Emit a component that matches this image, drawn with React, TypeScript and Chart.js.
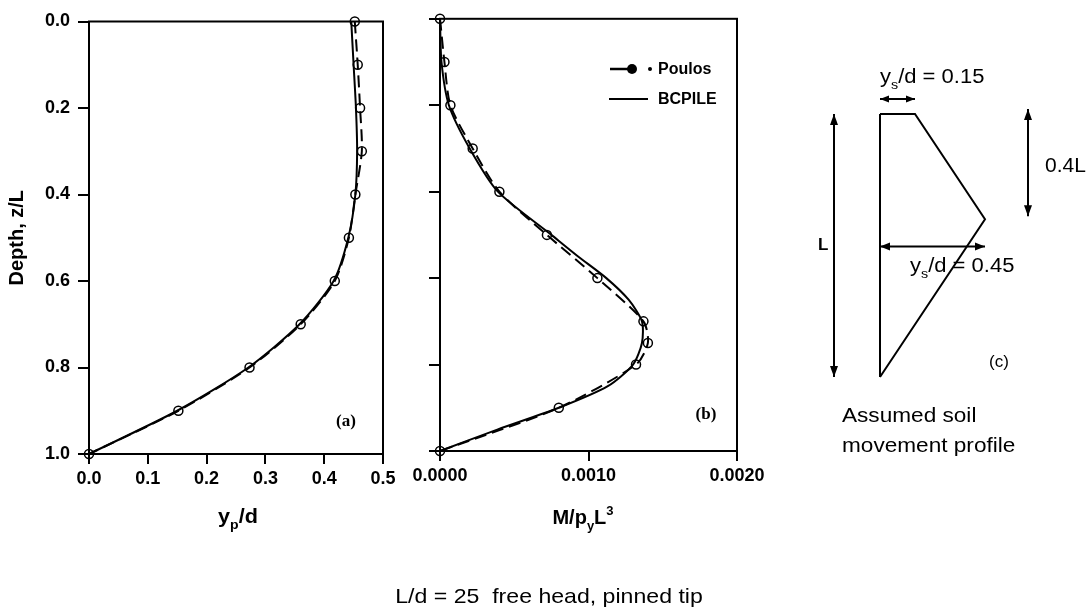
import React, { useEffect, useRef } from "react";
import { Chart, registerables } from "chart.js";

Chart.register(...registerables);

const W = 1089;
const H = 613;
const FONT = "'Liberation Sans', Arial, Helvetica, sans-serif";
const SERIF = "'Liberation Serif', 'Times New Roman', serif";

// ---- Panel (a): pile deflection y_p/d vs depth z/L
const depthA = [0, 0.1, 0.2, 0.3, 0.4, 0.5, 0.6, 0.7, 0.8, 0.9, 1.0];
const poulosA = [0.452, 0.457, 0.461, 0.464, 0.453, 0.442, 0.418, 0.36, 0.273, 0.152, 0];
const bcpileA = [0.446, 0.45, 0.454, 0.456, 0.453, 0.441, 0.416, 0.358, 0.271, 0.15, 0];
const xTicksA = { min: 0, max: 0.5, step: 0.1 };

// ---- Panel (b): bending moment M/p_yL^3 vs depth z/L
const depthPoulosB = [0, 0.1, 0.2, 0.3, 0.4, 0.5, 0.6, 0.7, 0.75, 0.8, 0.9, 1.0];
const poulosB = [0, 0.00003, 0.00007, 0.00022, 0.0004, 0.00072, 0.00106, 0.00137, 0.0014, 0.00132, 0.0008, 0];
const depthBcpileB = [0, 0.1, 0.2, 0.3, 0.4, 0.5, 0.55, 0.6, 0.65, 0.7, 0.75, 0.8, 0.85, 0.9, 0.95, 1.0];
const bcpileB = [0, 0.00001, 0.00006, 0.0002, 0.00039, 0.00075, 0.00093, 0.00112, 0.00127, 0.00136, 0.00136, 0.0013, 0.00113, 0.0008, 0.00039, 0];
const xTicksB = { min: 0, max: 0.002, step: 0.001 };

// ---- Depth axis
const depthAxis = { min: 0, max: 1, step: 0.2 };

// ---- Panel (c): assumed soil movement profile
const soilDepth = [0, 0, 0.4, 1];
const soilMove = [0, 0.15, 0.45, 0];
const pileDepth = [0, 1];
const pileMove = [0, 0];

type Seg = { t: string; sub?: boolean; sup?: boolean };

function drawRich(
  ctx: CanvasRenderingContext2D,
  segs: Seg[],
  x: number,
  y: number,
  size: number,
  bold: boolean,
  align: "left" | "center" | "right",
  sx = 1
) {
  ctx.save();
  const fontOf = (s: Seg) => {
    const sz = s.sub || s.sup ? Math.round(size * 0.65) : size;
    return `${bold ? "bold " : ""}${sz}px ${FONT}`;
  };
  let total = 0;
  const widths = segs.map((s) => {
    ctx.font = fontOf(s);
    const w = ctx.measureText(s.t).width;
    total += w;
    return w;
  });
  let x0 = x;
  if (align === "center") x0 = x - (total * sx) / 2;
  if (align === "right") x0 = x - total * sx;
  ctx.translate(x0, y);
  ctx.scale(sx, 1);
  ctx.fillStyle = "#000";
  ctx.textBaseline = "alphabetic";
  ctx.textAlign = "left";
  let cx = 0;
  segs.forEach((s, i) => {
    ctx.font = fontOf(s);
    const dy = s.sub ? size * 0.3 : s.sup ? -size * 0.45 : 0;
    ctx.fillText(s.t, cx, dy);
    cx += widths[i];
  });
  ctx.restore();
}

function arrowHead(ctx: CanvasRenderingContext2D, x: number, y: number, ang: number, len: number, hw: number) {
  ctx.beginPath();
  ctx.moveTo(x, y);
  ctx.lineTo(x - len * Math.cos(ang) + hw * Math.sin(ang), y - len * Math.sin(ang) - hw * Math.cos(ang));
  ctx.lineTo(x - len * Math.cos(ang) - hw * Math.sin(ang), y - len * Math.sin(ang) + hw * Math.cos(ang));
  ctx.closePath();
  ctx.fill();
}

function doubleArrow(ctx: CanvasRenderingContext2D, x1: number, y1: number, x2: number, y2: number, len = 10, hw = 4) {
  ctx.save();
  ctx.strokeStyle = "#000";
  ctx.fillStyle = "#000";
  ctx.lineWidth = 2;
  ctx.beginPath();
  ctx.moveTo(x1, y1);
  ctx.lineTo(x2, y2);
  ctx.stroke();
  const ang = Math.atan2(y2 - y1, x2 - x1);
  arrowHead(ctx, x2, y2, ang, len, hw);
  arrowHead(ctx, x1, y1, ang + Math.PI, len, hw);
  ctx.restore();
}

const framePlugin = {
  id: "frame",
  afterDraw(chart: any) {
    const { ctx, chartArea: a } = chart;
    ctx.save();
    ctx.strokeStyle = "#000";
    ctx.lineWidth = 2;
    ctx.setLineDash([]);
    ctx.strokeRect(a.left, a.top, a.right - a.left, a.bottom - a.top);
    ctx.restore();
  },
};

const tickFont = { family: FONT, size: 18, weight: "bold" as const };

function depthScale(showLabels: boolean, width: number) {
  return {
    type: "linear",
    reverse: true,
    min: depthAxis.min,
    max: depthAxis.max,
    afterFit(s: any) {
      s.width = width;
    },
    border: { display: true, color: "#000", width: 2 },
    grid: { drawOnChartArea: false, drawTicks: true, tickLength: 11, color: "#000", lineWidth: 2 },
    ticks: {
      stepSize: depthAxis.step,
      padding: 8,
      color: "#000",
      font: tickFont,
      autoSkip: false,
      callback: (v: any) => (showLabels ? Number(v).toFixed(1) : ""),
    },
    title: showLabels
      ? {
          display: true,
          text: "Depth, z/L",
          color: "#000",
          font: { family: FONT, size: 20, weight: "bold" },
          padding: { top: 5, bottom: 0 },
        }
      : { display: false },
  };
}

function valueScale(t: { min: number; max: number; step: number }, digits: number) {
  return {
    type: "linear",
    min: t.min,
    max: t.max,
    afterFit(s: any) {
      s.height = 80;
    },
    border: { display: true, color: "#000", width: 2 },
    grid: { drawOnChartArea: false, drawTicks: true, tickLength: 10, color: "#000", lineWidth: 2 },
    ticks: {
      stepSize: t.step,
      padding: 4,
      color: "#000",
      font: tickFont,
      autoSkip: false,
      maxRotation: 0,
      callback: (v: any) => Number(v).toFixed(digits),
    },
  };
}

function poulosDataset(xs: number[], ds: number[]) {
  return {
    label: "Poulos",
    data: xs.map((x, i) => ({ x, y: ds[i] })),
    showLine: true,
    borderColor: "#000",
    borderWidth: 2,
    borderDash: [12, 6],
    tension: 0.25,
    pointRadius: 4.5,
    pointBorderWidth: 1.5,
    pointBorderColor: "#000",
    pointBackgroundColor: "rgba(0,0,0,0)",
    clip: false,
  };
}

function bcpileDataset(xs: number[], ds: number[]) {
  return {
    label: "BCPILE",
    data: xs.map((x, i) => ({ x, y: ds[i] })),
    showLine: true,
    borderColor: "#000",
    borderWidth: 2,
    tension: 0.25,
    pointRadius: 0,
    clip: false,
  };
}

const baseOptions = {
  responsive: false,
  maintainAspectRatio: false,
  animation: false,
  devicePixelRatio: 1,
  events: [],
};

function configA(): any {
  const labels = {
    id: "labelsA",
    afterDraw(chart: any) {
      const { ctx, chartArea: a } = chart;
      drawRich(ctx, [{ t: "y" }, { t: "p", sub: true }, { t: "/d" }], (a.left + a.right) / 2 + 2, 523, 20, true, "center", 1.08);
      ctx.save();
      ctx.font = `bold 17px ${SERIF}`;
      ctx.fillStyle = "#000";
      ctx.textAlign = "center";
      ctx.textBaseline = "middle";
      ctx.fillText("(a)", a.right - 37, a.bottom - 32);
      ctx.restore();
    },
  };
  return {
    type: "scatter",
    data: { datasets: [poulosDataset(poulosA, depthA), bcpileDataset(bcpileA, depthA)] },
    options: {
      ...baseOptions,
      layout: { padding: { left: 0, top: 21.5, right: W - 383, bottom: H - 454 - 80 } },
      plugins: { legend: { display: false }, tooltip: { enabled: false } },
      scales: { x: valueScale(xTicksA, 1), y: depthScale(true, 89) },
    },
    plugins: [framePlugin, labels],
  };
}

function configB(): any {
  const labels = {
    id: "labelsB",
    afterDraw(chart: any) {
      const { ctx, chartArea: a } = chart;
      drawRich(
        ctx,
        [{ t: "M/p" }, { t: "y", sub: true }, { t: "L" }, { t: "3", sup: true }],
        583,
        524,
        20,
        true,
        "center",
        1.0
      );
      ctx.save();
      ctx.font = `bold 17px ${SERIF}`;
      ctx.fillStyle = "#000";
      ctx.textAlign = "center";
      ctx.textBaseline = "middle";
      ctx.fillText("(b)", a.right - 31, a.bottom - 36);
      // legend
      const L = a.left;
      ctx.strokeStyle = "#000";
      ctx.lineWidth = 2.5;
      ctx.beginPath();
      ctx.moveTo(L + 170, 69);
      ctx.lineTo(L + 188, 69);
      ctx.stroke();
      ctx.beginPath();
      ctx.arc(L + 192, 69, 5, 0, Math.PI * 2);
      ctx.fill();
      ctx.beginPath();
      ctx.arc(L + 210, 69, 2, 0, Math.PI * 2);
      ctx.fill();
      ctx.lineWidth = 2;
      ctx.beginPath();
      ctx.moveTo(L + 169, 99);
      ctx.lineTo(L + 208, 99);
      ctx.stroke();
      ctx.font = `bold 16px ${FONT}`;
      ctx.textAlign = "left";
      ctx.fillText("Poulos", L + 218, 70);
      ctx.fillText("BCPILE", L + 218, 100);
      ctx.restore();
    },
  };
  return {
    type: "scatter",
    data: { datasets: [poulosDataset(poulosB, depthPoulosB), bcpileDataset(bcpileB, depthBcpileB)] },
    options: {
      ...baseOptions,
      layout: { padding: { left: 390, top: 16, right: W - 737, bottom: H - 451 - 80 } },
      plugins: { legend: { display: false }, tooltip: { enabled: false } },
      scales: { x: valueScale(xTicksB, 4), y: depthScale(false, 50) },
    },
    plugins: [framePlugin, labels],
  };
}

function configC(): any {
  const notes = {
    id: "notesC",
    afterDraw(chart: any) {
      const { ctx } = chart;
      const xs = chart.scales.x;
      const ys = chart.scales.y;
      const x0 = xs.getPixelForValue(0);
      const xTop = xs.getPixelForValue(soilMove[1]);
      const xMax = xs.getPixelForValue(soilMove[2]);
      const yTop = ys.getPixelForValue(0);
      const yBreak = ys.getPixelForValue(soilDepth[2]);
      const yBot = ys.getPixelForValue(1);
      // L arrow
      doubleArrow(ctx, x0 - 46, yTop, x0 - 46, yBot, 11, 4);
      // 0.4L arrow
      doubleArrow(ctx, xMax + 43, yTop - 5, xMax + 43, yBreak - 3, 11, 4);
      // top movement arrow
      doubleArrow(ctx, x0, yTop - 15, xTop, yTop - 15, 9, 3.5);
      // max movement arrow
      const yMid = ys.getPixelForValue(0.5) + 1;
      doubleArrow(ctx, x0, yMid, xMax, yMid, 10, 4);

      drawRich(ctx, [{ t: "y" }, { t: "s", sub: true }, { t: "/d = 0.15" }], x0, yTop - 31, 20, false, "left", 1.1);
      drawRich(ctx, [{ t: "y" }, { t: "s", sub: true }, { t: "/d = 0.45" }], x0 + 30, yMid + 25, 20, false, "left", 1.1);
      drawRich(ctx, [{ t: "0.4L" }], xMax + 60, 172, 20, false, "left", 1.05);
      drawRich(ctx, [{ t: "L" }], x0 - 62, 250, 17, true, "left", 1.0);
      drawRich(ctx, [{ t: "(c)" }], xMax + 14, 367, 17, false, "center", 1.0);
      drawRich(ctx, [{ t: "Assumed soil" }], x0 - 38, 422, 20, false, "left", 1.13);
      drawRich(ctx, [{ t: "movement profile" }], x0 - 38, 452, 20, false, "left", 1.13);
      drawRich(ctx, [{ t: "L/d = 25  free head, pinned tip" }], 549, 603, 21, false, "center", 1.1);
    },
  };
  return {
    type: "scatter",
    data: {
      datasets: [
        {
          label: "pile",
          data: pileMove.map((x, i) => ({ x, y: pileDepth[i] })),
          showLine: true,
          borderColor: "#000",
          borderWidth: 2,
          pointRadius: 0,
          tension: 0,
          clip: false,
        },
        {
          label: "soil",
          data: soilMove.map((x, i) => ({ x, y: soilDepth[i] })),
          showLine: true,
          borderColor: "#000",
          borderWidth: 2,
          pointRadius: 0,
          tension: 0,
          clip: false,
        },
      ],
    },
    options: {
      ...baseOptions,
      layout: { padding: { left: 810, top: 114, right: W - 810 - 1.1 * (105 / 0.45), bottom: H - 377 } },
      plugins: { legend: { display: false }, tooltip: { enabled: false } },
      scales: {
        x: { type: "linear", display: false, min: -0.3, max: 0.8 },
        y: { type: "linear", display: false, min: 0, max: 1, reverse: true },
      },
    },
    plugins: [notes],
  };
}

export default function App() {
  const ra = useRef<HTMLCanvasElement>(null);
  const rb = useRef<HTMLCanvasElement>(null);
  const rc = useRef<HTMLCanvasElement>(null);

  useEffect(() => {
    const charts: Chart[] = [];
    if (ra.current) charts.push(new Chart(ra.current, configA()));
    if (rb.current) charts.push(new Chart(rb.current, configB()));
    if (rc.current) charts.push(new Chart(rc.current, configC()));
    return () => charts.forEach((c) => c.destroy());
  }, []);

  const cs: React.CSSProperties = { position: "absolute", left: 0, top: 0, width: W, height: H };
  return (
    <div style={{ position: "fixed", left: 0, top: 0, width: W, height: H, background: "#fff", overflow: "hidden" }}>
      <canvas ref={ra} width={W} height={H} style={cs} />
      <canvas ref={rb} width={W} height={H} style={cs} />
      <canvas ref={rc} width={W} height={H} style={cs} />
    </div>
  );
}
